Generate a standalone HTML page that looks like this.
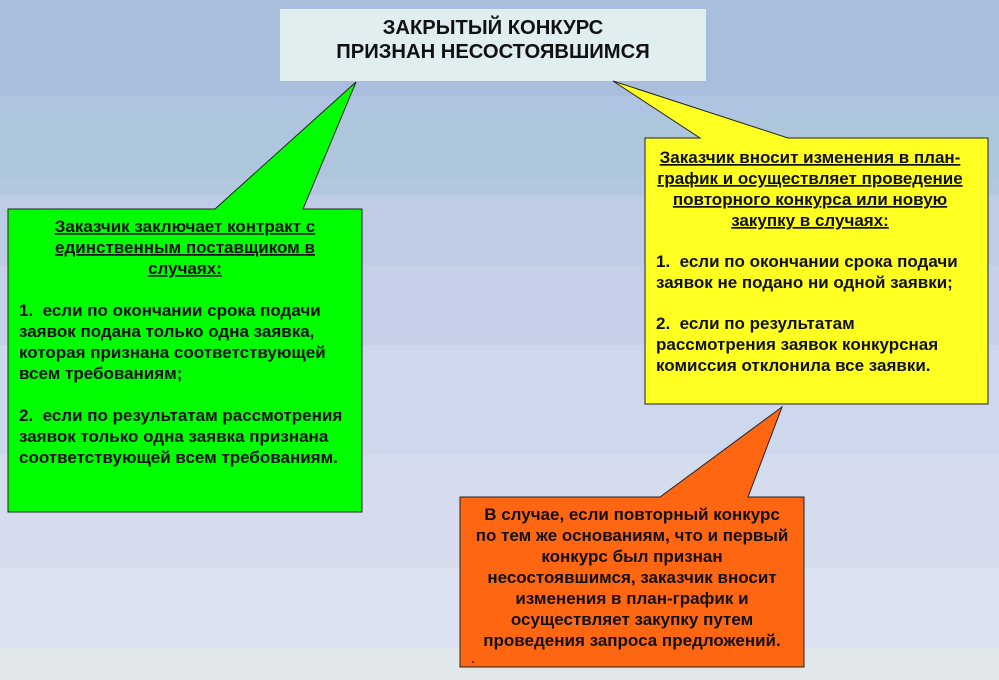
<!DOCTYPE html>
<html><head><meta charset="utf-8"><style>
html,body{margin:0;padding:0;width:999px;height:680px;overflow:hidden}
svg{display:block}
text{font-family:"Liberation Sans",sans-serif;font-weight:bold;font-size:17px;fill:#111;white-space:pre}
</style></head><body>
<svg width="999" height="680" viewBox="0 0 999 680" xmlns="http://www.w3.org/2000/svg">
<rect x="0" y="0" width="999" height="96" fill="#a9bddd"/>
<rect x="0" y="96" width="999" height="20" fill="#afc4e1"/>
<rect x="0" y="116" width="999" height="62" fill="#adc6dc"/>
<rect x="0" y="178" width="999" height="17" fill="#b3c7de"/>
<rect x="0" y="195" width="999" height="70" fill="#bfcce6"/>
<rect x="0" y="265" width="999" height="80" fill="#c6d1e9"/>
<rect x="0" y="345" width="999" height="110" fill="#ced8ec"/>
<rect x="0" y="455" width="999" height="113" fill="#d5dcee"/>
<rect x="0" y="568" width="999" height="80" fill="#dde2f1"/>
<rect x="0" y="648" width="999" height="32" fill="#e2e8ea"/>

<rect x="280" y="9" width="426" height="72" fill="#e0eef0"/>
<text x="493" y="34" text-anchor="middle" style="font-size:20.2px">ЗАКРЫТЫЙ КОНКУРС</text>
<text x="493" y="58" text-anchor="middle" style="font-size:20.2px">ПРИЗНАН НЕСОСТОЯВШИМСЯ</text>

<!-- green -->
<polygon points="8,209 215,209 356,82 303,209 362,209 362,512 8,512" fill="#00ff00" stroke="#222" stroke-width="1"/>
<text x="185" y="232" text-anchor="middle" text-decoration="underline">Заказчик заключает контракт с</text>
<text x="185" y="253" text-anchor="middle" text-decoration="underline">единственным поставщиком в</text>
<text x="185" y="274" text-anchor="middle" text-decoration="underline">случаях:</text>
<text x="19" y="316">1.  если по окончании срока подачи</text>
<text x="19" y="337">заявок подана только одна заявка,</text>
<text x="19" y="358">которая признана соответствующей</text>
<text x="19" y="379">всем требованиям;</text>
<text x="19" y="421">2.  если по результатам рассмотрения</text>
<text x="19" y="442">заявок только одна заявка признана</text>
<text x="19" y="463">соответствующей всем требованиям.</text>

<!-- yellow -->
<polygon points="645,138 700,138 613,81 788,138 988,138 988,404 645,404" fill="#ffff22" stroke="#222" stroke-width="1"/>
<text x="810" y="163" text-anchor="middle" text-decoration="underline">Заказчик вносит изменения в план-</text>
<text x="810" y="184" text-anchor="middle" text-decoration="underline">график и осуществляет проведение</text>
<text x="810" y="205" text-anchor="middle" text-decoration="underline">повторного конкурса или новую</text>
<text x="810" y="226" text-anchor="middle" text-decoration="underline">закупку в случаях:</text>
<text x="656" y="267">1.  если по окончании срока подачи</text>
<text x="656" y="288">заявок не подано ни одной заявки;</text>
<text x="656" y="329">2.  если по результатам</text>
<text x="656" y="350">рассмотрения заявок конкурсная</text>
<text x="656" y="371">комиссия отклонила все заявки.</text>

<!-- orange -->
<polygon points="460,497 660,497 782,407 748,497 804,497 804,667 460,667" fill="#ff6611" stroke="#222" stroke-width="1"/>
<text x="632" y="520" text-anchor="middle">В случае, если повторный конкурс</text>
<text x="632" y="541" text-anchor="middle">по тем же основаниям, что и первый</text>
<text x="632" y="562" text-anchor="middle">конкурс был признан</text>
<text x="632" y="583" text-anchor="middle">несостоявшимся, заказчик вносит</text>
<text x="632" y="604" text-anchor="middle">изменения в план-график и</text>
<text x="632" y="625" text-anchor="middle">осуществляет закупку путем</text>
<text x="632" y="646" text-anchor="middle">проведения запроса предложений.</text>
<circle cx="473" cy="662" r="1" fill="#222"/>
</svg>
</body></html>
